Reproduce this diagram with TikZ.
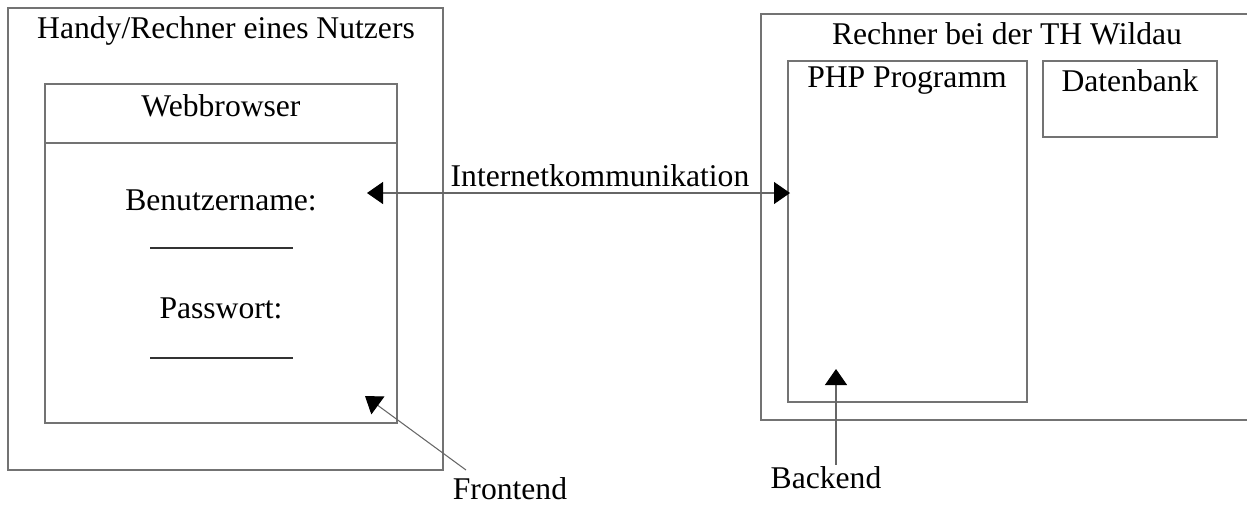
\documentclass[tikz,border=0pt]{standalone}
\usepackage{fontspec}
\setmainfont{Liberation Serif}
\usetikzlibrary{arrows.meta,positioning,fit}

\begin{document}
\begin{tikzpicture}[x=0.02cm,y=-0.02cm]
  \tikzset{
    box/.style={draw=black!55, line width=0.6pt, inner sep=0pt},
    txt/.style={font=\fontsize{18}{21}\selectfont, inner sep=1pt},
    field/.style={black!80, line width=0.6pt},
    arr/.style={-{Triangle[length=0.32cm, width=0.44cm, color=black]}, black!60, line width=0.6pt},
    both/.style={{Triangle[length=0.32cm, width=0.44cm, color=black]}-{Triangle[length=0.32cm, width=0.44cm, color=black]}, black!60, line width=0.6pt}
  }

  \useasboundingbox (0,0) rectangle (1247,505);
  \clip (0,0) rectangle (1247,505);

  % Client side
  \node[box, fit={(8,8) (443,470)}] (dev) {};
  \node[txt] (devtitle) at (226,31) {Handy/Rechner eines Nutzers};
  \node[box, fit={(45,84) (397,423)}] (browser) {};
  \draw[box] (45,143) -- (397,143);
  \node[txt] (browsertitle) at (221,106) {Webbrowser};
  \node[txt] (user) at (221,200) {Benutzername:};
  \draw[field] (150,248) -- (293,248);
  \node[txt] (pass) at (221,308) {Passwort:};
  \draw[field] (150,358) -- (293,358);

  % Server side
  \node[box, fit={(761,14) (1280,420)}] (server) {};
  \node[txt] (servertitle) at (1007,34) {Rechner bei der TH Wildau};
  \node[box, fit={(788,61) (1027,402)}] (php) {};
  \node[txt] (phptitle) at (907,81) {PHP Programm};
  \node[box, fit={(1043,61) (1217,137)}] (db) {};
  \node[txt] (dbtitle) at (1130,81) {Datenbank};

  % Communication
  \coordinate (clientend) at (367,193);
  \coordinate (serverend) at (790,193);
  \draw[both] (clientend) -- (serverend);
  \node[txt] (net) at (600,176) {Internetkommunikation};

  % Labels
  \node[txt, anchor=base] (front) at (510,499) {Frontend};
  \coordinate (fronttail) at (466,470);
  \coordinate (fronttip) at (365,396);
  \draw[arr] (fronttail) -- (fronttip);

  \node[txt] (back) at (826,478) {Backend};
  \coordinate (backtip) at (836,369);
  \draw[arr] (back.north -| backtip) -- (backtip);

\end{tikzpicture}
\end{document}
